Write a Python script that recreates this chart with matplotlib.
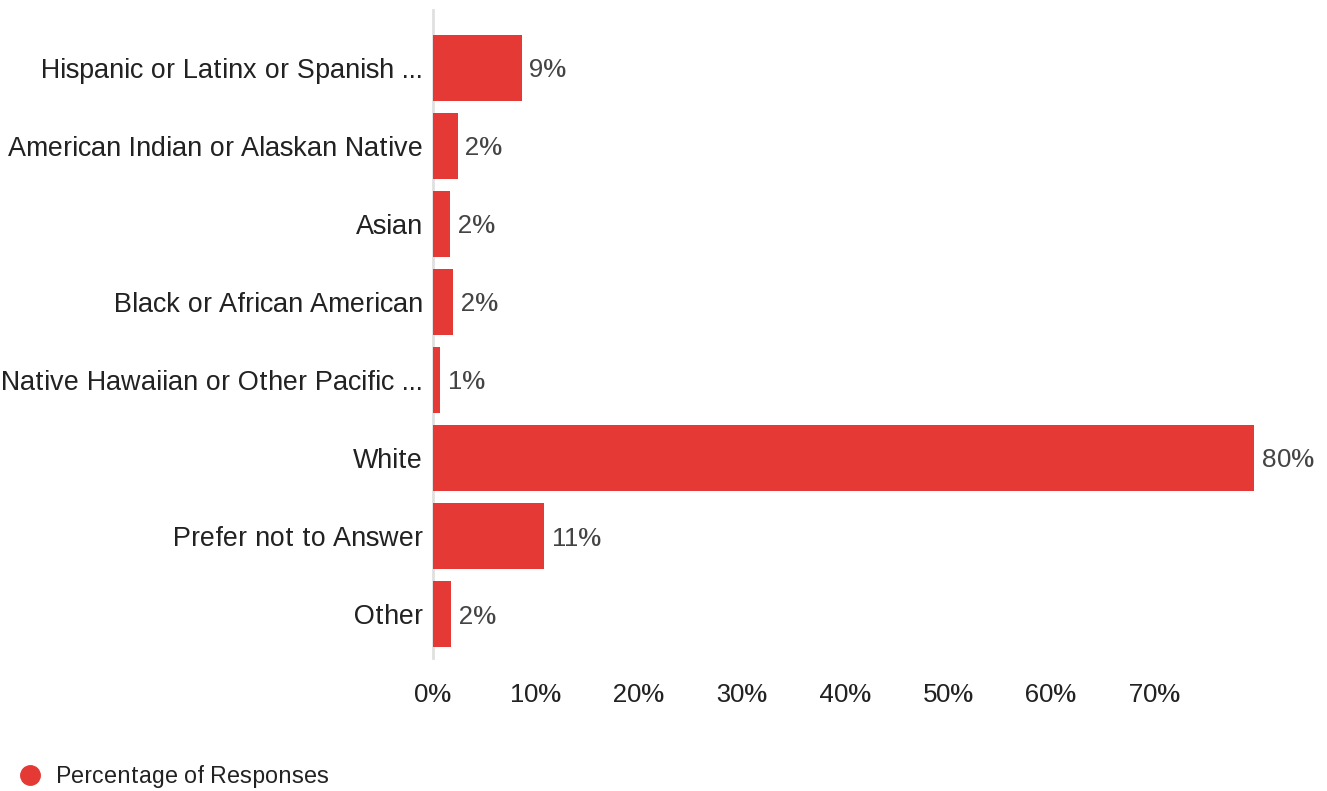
import matplotlib.pyplot as plt
from matplotlib.lines import Line2D

categories = [
    "Hispanic or Latinx or Spanish ...",
    "American Indian or Alaskan Native",
    "Asian",
    "Black or African American",
    "Native Hawaiian or Other Pacific ...",
    "White",
    "Prefer not to Answer",
    "Other",
]
values = [8.6, 2.4, 1.65, 1.95, 0.7, 79.7, 10.8, 1.75]
x_ticks = [0, 10, 20, 30, 40, 50, 60, 70]
series_name = "Percentage of Responses"

RED = "#e53935"
plt.rcParams["font.family"] = ["Liberation Sans", "DejaVu Sans"]
plt.rcParams["text.hinting_factor"] = 1

W, H = 1327, 791
fig = plt.figure(figsize=(W / 100, H / 100), dpi=100, facecolor="white")
# axes placed in pixel terms: left 433, right 1257, top 10, bottom 658
left, right, top, bottom = 433, 1257, 10, 658
ax = fig.add_axes([left / W, 1 - bottom / H, (right - left) / W, (bottom - top) / H])

y = list(range(len(categories)))
ax.barh(y, values, height=0.846, color=RED, zorder=2)

for yi, v in zip(y, values):
    ax.text(v + 0.75, yi, f"{round(v)}%", va="center_baseline", ha="left",
            fontsize=19, color="#444444")

ax.set_xlim(0, 80)
ax.set_ylim(7.5 + 5 / 78, -0.5 - 19 / 78)
ax.set_yticks(y)
ax.set_yticklabels(categories, fontsize=19.1, color="#222222",
                   va="center_baseline")
ax.set_xticks(x_ticks)
ax.set_xticklabels([f"{t}%" for t in x_ticks], fontsize=19, color="#222222")
ax.tick_params(axis="both", length=0)
ax.tick_params(axis="y", pad=7)
ax.tick_params(axis="x", pad=18)

for s in ["top", "right", "bottom"]:
    ax.spines[s].set_visible(False)
ax.spines["left"].set_color("#e0e0e0")
ax.spines["left"].set_linewidth(2)
ax.spines["left"].set_zorder(1)

handle = Line2D([], [], marker="o", linestyle="none", markersize=14,
                markerfacecolor=RED, markeredgecolor=RED)
fig.legend([handle], [series_name], loc="center left",
           bbox_to_anchor=(-4 / W, 1 - 776 / H), frameon=False,
           fontsize=16.4, handletextpad=0.55, handlelength=1.2,
           labelcolor="#222222")

fig.savefig("out.png", dpi=100, facecolor="white")
